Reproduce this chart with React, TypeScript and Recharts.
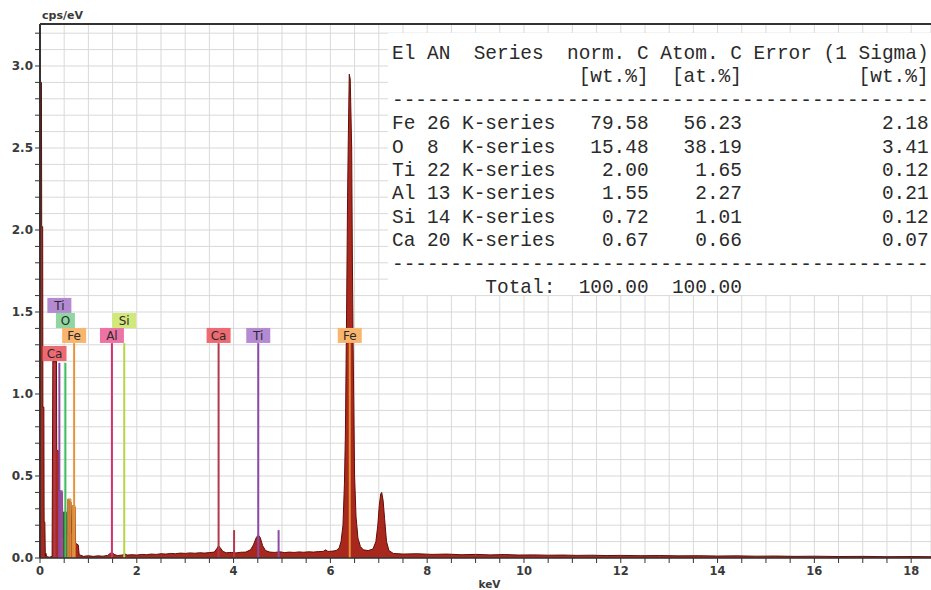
import React from "react";
import {
  ComposedChart,
  Area,
  XAxis,
  YAxis,
  CartesianGrid,
  ReferenceLine,
  ReferenceDot,
} from "recharts";

// EDX spectrum, [keV, cps/eV]
const lowEnergy: [number, number][] = [
  [0.0, 2.9], [0.03, 2.9], [0.035, 2.02], [0.055, 2.02], [0.06, 0.92], [0.08, 0.92],
  [0.085, 0.22], [0.1, 0.22], [0.11, 0.01], [0.12, 0.03], [0.14, 0.008], [0.2, 0.005],
  [0.25, 0.01], [0.265, 1.2], [0.34, 1.2], [0.345, 0.66], [0.39, 0.65], [0.395, 0.41],
  [0.46, 0.4], [0.475, 0.12], [0.49, 0.28], [0.555, 0.27], [0.565, 0.14], [0.575, 0.36],
  [0.64, 0.34], [0.655, 0.15], [0.67, 0.32], [0.725, 0.31], [0.735, 0.09], [0.79, 0.08],
  [0.81, 0.02], [0.9, 0.01],
];

const midEnergy: [number, number][] = [
  [1.0, 0.014], [1.1, 0.01], [1.2, 0.013], [1.3, 0.011], [1.4, 0.016], [1.45, 0.028],
  [1.49, 0.035], [1.53, 0.022], [1.6, 0.015], [1.7, 0.018], [1.75, 0.026], [1.8, 0.018],
  [1.9, 0.02], [2.0, 0.018], [2.1, 0.022], [2.2, 0.02], [2.3, 0.024], [2.4, 0.022],
  [2.5, 0.026], [2.6, 0.024], [2.7, 0.028], [2.8, 0.026], [2.9, 0.03], [3.0, 0.028],
  [3.1, 0.031], [3.2, 0.029], [3.3, 0.032], [3.4, 0.03], [3.5, 0.033], [3.6, 0.036],
  [3.65, 0.055], [3.69, 0.075], [3.73, 0.06], [3.78, 0.04], [3.85, 0.032], [3.95, 0.034],
  [4.05, 0.031], [4.15, 0.035], [4.25, 0.036], [4.35, 0.05], [4.41, 0.08], [4.47, 0.125],
  [4.51, 0.14], [4.55, 0.125], [4.6, 0.075], [4.66, 0.045], [4.75, 0.036], [4.85, 0.034],
  [4.95, 0.038], [5.05, 0.033], [5.15, 0.036], [5.25, 0.034], [5.35, 0.037], [5.45, 0.035],
  [5.55, 0.038], [5.65, 0.036], [5.75, 0.039], [5.85, 0.04], [5.9, 0.05], [5.95, 0.04],
  [6.05, 0.042], [6.12, 0.046],
];

const ironPeaks: [number, number][] = [
  [6.18, 0.06], [6.22, 0.1], [6.26, 0.2], [6.29, 0.45], [6.31, 0.75], [6.335, 1.5],
  [6.355, 2.2], [6.37, 2.55], [6.39, 2.95], [6.41, 2.92], [6.44, 2.5], [6.455, 1.8],
  [6.47, 1.3], [6.5, 0.5], [6.53, 0.25], [6.57, 0.12], [6.62, 0.07], [6.68, 0.05],
  [6.78, 0.045], [6.88, 0.055], [6.94, 0.1], [6.98, 0.2], [7.01, 0.32], [7.04, 0.39],
  [7.06, 0.4], [7.09, 0.35], [7.12, 0.24], [7.16, 0.1], [7.21, 0.045], [7.3, 0.028],
];

const highEnergy: [number, number][] = [
  [7.5, 0.024], [7.8, 0.026], [8.1, 0.022], [8.4, 0.024], [8.7, 0.02], [9.0, 0.022],
  [9.3, 0.019], [9.6, 0.021], [9.9, 0.018], [10.2, 0.019], [10.5, 0.017], [10.8, 0.018],
  [11.1, 0.016], [11.4, 0.017], [11.7, 0.015], [12.0, 0.016], [12.4, 0.014], [12.8, 0.015],
  [13.2, 0.013], [13.6, 0.014], [14.0, 0.012], [14.4, 0.013], [14.8, 0.011], [15.2, 0.012],
  [15.6, 0.01], [16.0, 0.011], [16.5, 0.009], [17.0, 0.01], [17.5, 0.008], [18.0, 0.009],
  [18.41, 0.008],
];

const spectrum = [...lowEnergy, ...midEnergy, ...ironPeaks, ...highEnergy].map(
  ([keV, cps]) => ({ keV, cps })
);

// coloured fitted L-line contributions at low energy
const fitElements = ["Ti", "O", "Fe", "Fe"];
const fitRanges: [number, number, number][] = [
  // [from keV, to keV, cps]
  [0.395, 0.46, 0.41],
  [0.49, 0.555, 0.28],
  [0.575, 0.64, 0.36],
  [0.67, 0.725, 0.32],
];

// element markers (labelled)
const markerElements = ["Ca", "Ti", "O", "Fe", "Al", "Si", "Ca", "Ti", "Fe"];
const markerEnergies = [0.3, 0.4, 0.525, 0.705, 1.486, 1.74, 3.69, 4.51, 6.4];
const markerHeights = [1.19, 1.19, 1.19, 1.31, 1.31, 1.31, 1.31, 1.31, 1.31];

// beta lines without tags
const minorElements = ["Ca", "Ti"];
const minorEnergies = [4.01, 4.93];
const minorHeights = [0.17, 0.17];

// quantification table
const tableElements = ["Fe", "O", "Ti", "Al", "Si", "Ca"];
const tableAN = [26, 8, 22, 13, 14, 20];
const normC = [79.58, 15.48, 2.0, 1.55, 0.72, 0.67];
const atomC = [56.23, 38.19, 1.65, 2.27, 1.01, 0.66];
const sigma = [2.18, 3.41, 0.12, 0.21, 0.12, 0.07];
const totalNorm = 100.0;
const totalAtom = 100.0;

const xTickLabels = [0, 2, 4, 6, 8, 10, 12, 14, 16, 18];
const yTickLabels = [0, 0.5, 1.0, 1.5, 2.0, 2.5, 3.0];

// layout
const X_MAX = 18.41;
const Y_MAX = 3.256;
const xTicks = Array.from({ length: 37 }, (_, i) => i * 0.5);
const yTicks = Array.from({ length: 33 }, (_, i) => i / 10);
const tagLevels = [1.247, 1.54, 1.448, 1.357, 1.357, 1.448, 1.357, 1.357, 1.357];

const colors: Record<string, { line: string; tag: string; fit: string }> = {
  Ca: { line: "#b23a4c", tag: "#ee6a72", fit: "#c0303a" },
  Ti: { line: "#8c4aa8", tag: "#b48ad2", fit: "#9a58b8" },
  O: { line: "#3fbf60", tag: "#8fd6a0", fit: "#2f6a30" },
  Fe: { line: "#e8923a", tag: "#f7b56e", fit: "#d9953f" },
  Al: { line: "#d2336f", tag: "#ec73a4", fit: "#d2336f" },
  Si: { line: "#b2d843", tag: "#d3e87a", fit: "#b2d843" },
};

const tableLines = [
  "El AN  Series  norm. C Atom. C Error (1 Sigma)",
  " ".repeat(16) + "[wt.%]  [at.%]" + " ".repeat(10) + "[wt.%]",
  "-".repeat(46),
  ...tableElements.map(
    (el, i) =>
      `${el.padEnd(2)} ${String(tableAN[i]).padEnd(2)} K-series` +
      normC[i].toFixed(2).padStart(8) +
      atomC[i].toFixed(2).padStart(8) +
      sigma[i].toFixed(2).padStart(16)
  ),
  "-".repeat(46),
  " ".repeat(8) + "Total:" + totalNorm.toFixed(2).padStart(8) + totalAtom.toFixed(2).padStart(8),
];

const ElementTag = (props: any) => {
  const { cx, cy, text, fill } = props;
  const w = text.length > 1 ? 24 : 19;
  return (
    <g>
      <rect x={cx - w / 2} y={cy - 7.5} width={w} height={15} fill={fill} />
      <text x={cx} y={cy + 4.5} textAnchor="middle" fontSize={12} fill="#2a2a2a">
        {text}
      </text>
    </g>
  );
};

export default function App() {
  return (
    <div
      style={{
        position: "absolute",
        left: 0,
        top: 0,
        width: 931,
        height: 590,
        background: "#fff",
        fontFamily: "'DejaVu Sans', sans-serif",
        overflow: "hidden",
      }}
    >
      <ComposedChart
        width={931}
        height={590}
        data={spectrum}
        margin={{ top: 24, right: 0, bottom: 0, left: 0 }}
      >
        <CartesianGrid stroke="#d9d9d9" strokeWidth={1} />
        <XAxis
          dataKey="keV"
          type="number"
          domain={[0, X_MAX]}
          allowDataOverflow
          ticks={xTicks}
          interval={0}
          height={32}
          tickSize={5}
          tickMargin={4}
          tick={{ fill: "#3a3a3a", fontSize: 11.5, fontWeight: "bold" }}
          tickFormatter={(v: number) => (xTickLabels.includes(v) ? String(v) : "")}
          axisLine={{ stroke: "#333", strokeWidth: 1.5 }}
          tickLine={{ stroke: "#333" }}
          label={{
            value: "keV",
            position: "insideBottom",
            offset: 2,
            dx: 4,
            fill: "#3a3a3a",
            fontSize: 10.5,
            fontWeight: "bold",
          }}
        />
        <YAxis
          type="number"
          domain={[0, Y_MAX]}
          allowDataOverflow
          ticks={yTicks}
          interval={0}
          width={40}
          tickSize={5}
          tickMargin={2}
          tick={{ fill: "#3a3a3a", fontSize: 12, fontWeight: "bold" }}
          tickFormatter={(v: number) =>
            yTickLabels.some((t) => Math.abs(t - v) < 1e-6) ? v.toFixed(1) : ""
          }
          axisLine={{ stroke: "#333", strokeWidth: 2 }}
          tickLine={{ stroke: "#333" }}
          label={(p: any) => (
            <text
              x={p.viewBox.x + p.viewBox.width + 2}
              y={p.viewBox.y - 5}
              fontSize={11}
              fontWeight="bold"
              fill="#3a3a3a"
            >
              cps/eV
            </text>
          )}
        />
        <ReferenceLine y={Y_MAX} stroke="#333" strokeWidth={2} />
        <Area
          type="linear"
          dataKey="cps"
          stroke="#640d08"
          strokeWidth={1}
          fill="#a8281d"
          fillOpacity={1}
          dot={false}
          activeDot={false}
          isAnimationActive={false}
        />
        {fitRanges.map(([from, to, cps], i) => (
          <Area
            key={`f${i}`}
            data={[
              { keV: from, fit: 0 },
              { keV: from, fit: cps },
              { keV: to, fit: cps },
              { keV: to, fit: 0 },
            ]}
            type="linear"
            dataKey="fit"
            stroke={colors[fitElements[i]].fit}
            strokeWidth={1}
            fill={colors[fitElements[i]].fit}
            fillOpacity={0.75}
            dot={false}
            activeDot={false}
            isAnimationActive={false}
          />
        ))}
        {markerEnergies.map((e, i) => (
          <ReferenceLine
            key={`m${i}`}
            segment={[
              { x: e, y: 0 },
              { x: e, y: markerHeights[i] },
            ]}
            stroke={colors[markerElements[i]].line}
            strokeWidth={2}
          />
        ))}
        {minorEnergies.map((e, i) => (
          <ReferenceLine
            key={`b${i}`}
            segment={[
              { x: e, y: 0 },
              { x: e, y: minorHeights[i] },
            ]}
            stroke={colors[minorElements[i]].line}
            strokeWidth={2}
          />
        ))}
        {markerEnergies.map((e, i) => (
          <ReferenceDot
            key={`t${i}`}
            x={e}
            y={tagLevels[i]}
            shape={(p: any) => (
              <ElementTag
                cx={p.cx}
                cy={p.cy}
                text={markerElements[i]}
                fill={colors[markerElements[i]].tag}
              />
            )}
          />
        ))}
      </ComposedChart>
      <div
        style={{
          position: "absolute",
          left: 388,
          top: 33,
          width: 543,
          height: 262,
          boxSizing: "border-box",
          padding: "10px 0 0 4px",
          background: "#fff",
          fontFamily: "'Liberation Mono', monospace",
          fontSize: 19.45,
          lineHeight: "23.4px",
          whiteSpace: "pre",
          color: "#2a2a2a",
        }}
      >
        {tableLines.join("\n")}
      </div>
    </div>
  );
}
